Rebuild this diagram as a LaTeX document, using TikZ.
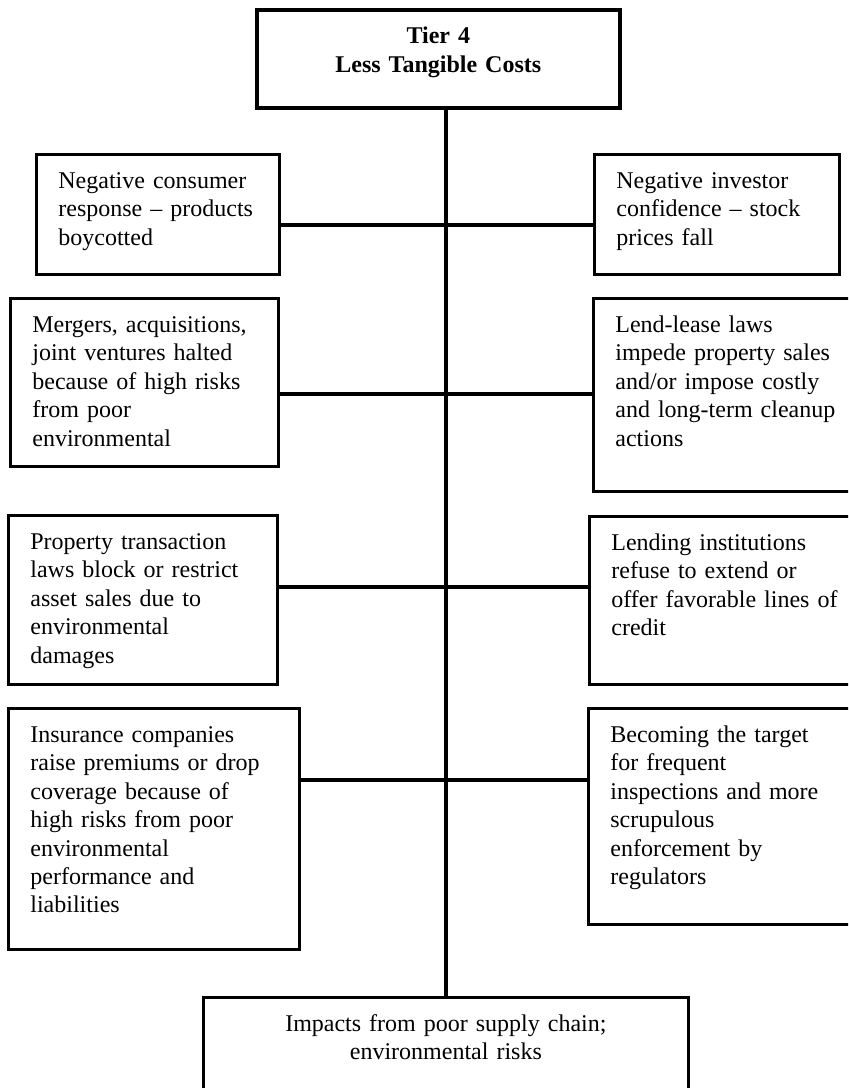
\documentclass[tikz,border=0pt]{standalone}
\usepackage{fontspec}
\setmainfont{Liberation Serif}
\usetikzlibrary{shapes,positioning}

\tikzset{
    cost/.style={draw, line width=1.4pt, anchor=north west, align=left,
        inner xsep=11pt, inner ysep=8pt, text height=9pt,
        font=\fontsize{12}{14.2}\selectfont},
    link/.style={line width=2.4pt}
}

\begin{document}
\begin{tikzpicture}[x=0.5pt, y=-0.5pt]

\useasboundingbox (0,0) rectangle (848,1088);
\clip (0,0) rectangle (848,1088);

% Top block
\node[cost, line width=1.8pt, align=center,
    text width=159.5pt,
    text depth=24pt] (tier) at (255,8) {\textbf{Tier 4}\\ \textbf{Less Tangible Costs}};

% Left column
\node[cost,
    text width=99.5pt,
    text depth=35pt] (cons) at (35,153) {Negative consumer\\ response -- products\\ boycotted};

\node[cost,
    text width=112pt,
    text depth=59pt] (merge) at (9,297) {Mergers, acquisitions,\\ joint ventures halted\\ because of high risks\\ from poor\\ environmental};

\node[cost,
    text width=112.5pt,
    text depth=59.5pt] (trans) at (7,514) {Property transaction\\ laws block or restrict\\ asset sales due to\\ environmental\\ damages};

\node[cost,
    text width=123.5pt,
    text depth=95.5pt] (insur) at (7,707) {Insurance companies\\ raise premiums or drop\\ coverage because of\\ high risks from poor\\ environmental\\ performance and\\ liabilities};

% Right column (cut by the page edge)
\node[cost,
    text width=100.5pt,
    text depth=35pt] (inv) at (593,153) {Negative investor\\ confidence -- stock\\ prices fall};

\node[cost,
    text width=125pt,
    text depth=71.5pt] (lease) at (592,297) {Lend-lease laws\\ impede property sales\\ and/or impose costly\\ and long-term cleanup\\ actions};

\node[cost,
    text width=125pt,
    text depth=59pt] (lend) at (588,515) {Lending institutions\\ refuse to extend or\\ offer favorable lines of\\ credit};

\node[cost,
    text width=125pt,
    text depth=83pt] (target) at (587,707) {Becoming the target\\ for frequent\\ inspections and more\\ scrupulous\\ enforcement by\\ regulators};

% Bottom block
\node[cost, align=center,
    text width=220.5pt,
    text depth=30pt] (impact) at (202,996) {Impacts from poor supply chain;\\ environmental risks};

% Junctions on the spine
\coordinate (j1) at (446,225);
\coordinate (j2) at (446,394);
\coordinate (j3) at (446,587);
\coordinate (j4) at (446,780);

% Lines
\draw[link] (tier.south -| j1) -- (impact.north -| j1);
\draw[link] (j1 -| cons.east) -- (j1 -| inv.west);
\draw[link] (j2 -| merge.east) -- (j2 -| lease.west);
\draw[link] (j3 -| trans.east) -- (j3 -| lend.west);
\draw[link] (j4 -| insur.east) -- (j4 -| target.west);

\end{tikzpicture}
\end{document}
